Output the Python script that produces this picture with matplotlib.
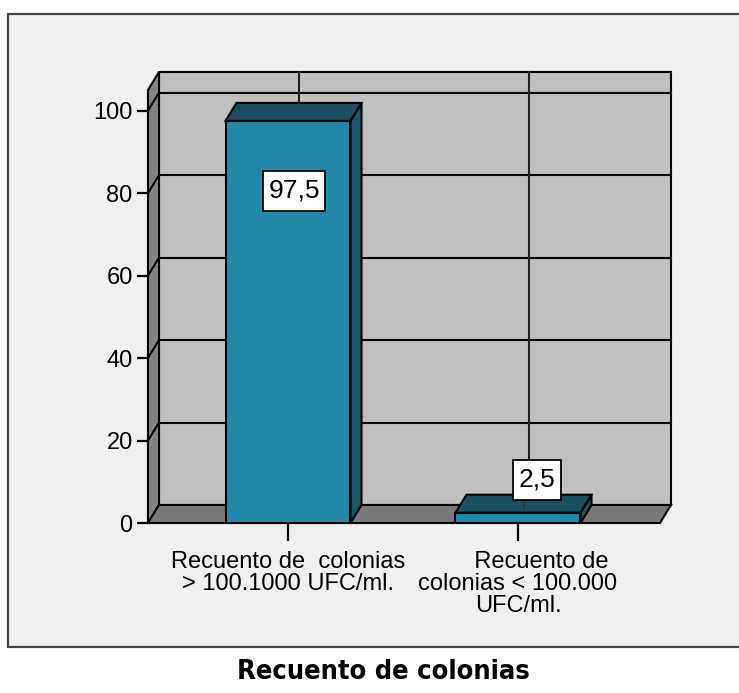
import numpy as np
import matplotlib.pyplot as plt
from matplotlib.patches import Polygon, Rectangle
from matplotlib.path import Path

# datos del grafico
categorias = ['Recuento de  colonias\n> 100.1000 UFC/ml.',
              '       Recuento de\ncolonias < 100.000\nUFC/ml.']
porcentajes = [97.5, 2.5]
etiquetas = ['97,5', '2,5']
marcas_y = [0, 20, 40, 60, 80, 100]
titulo = 'Recuento de colonias'

plt.rcParams['font.family'] = ['Liberation Sans']

W, H = 739, 693
fig = plt.figure(figsize=(W / 100, H / 100), dpi=100, facecolor='white')

# marco exterior gris claro
fig.patches.append(Rectangle((8 / W, (H - 647) / H), 740 / W, (647 - 14) / H,
                             transform=fig.transFigure, facecolor='#f0f0f0',
                             edgecolor='#454545', lw=1.6, zorder=-5))

# ejes frontales (pared izquierda y suelo delanteros)
ax = fig.add_axes([148 / W, (H - 523) / H, (660 - 148) / W, (523 - 90) / H])
x0, x1 = -0.6087, 1.6174
ytop = 105
ax.set_xlim(x0, x1)
ax.set_ylim(0, ytop)
ax.patch.set_visible(False)
for s in ax.spines.values():
    s.set_visible(False)

# profundidad 3D en pixeles
dx, dy = 11, 18


def desplazar(x, y, ox, oy):
    px, py = ax.transData.transform((x, y))
    return ax.transData.inverted().transform((px + ox, py + oy))


def fondo(x, y):
    return desplazar(x, y, dx, dy)


def poli(pts, fc, z):
    ax.add_patch(Polygon(pts, closed=True, facecolor=fc, edgecolor='black',
                         lw=1.5, zorder=z, clip_on=False, joinstyle='miter'))


# caja de etiqueta mas alta que ancha
def caja(x, y, w, h, m):
    px, py = 0.2 * m, 0.3 * m
    return Path([(x - px, y - py), (x + w + px, y - py), (x + w + px, y + h + py),
                 (x - px, y + h + py), (x - px, y - py)], closed=True)


# pared trasera con rejilla
poli([fondo(x0, 0), fondo(x1, 0), fondo(x1, ytop), fondo(x0, ytop)], '#c0c0c0', 1)
for y in marcas_y[1:]:
    a, b = fondo(x0, y), fondo(x1, y)
    ax.plot([a[0], b[0]], [a[1], b[1]], color='black', lw=1.5, zorder=2, clip_on=False)
for i in range(len(categorias)):
    a, b = fondo(i, 0), fondo(i, ytop)
    ax.plot([a[0], b[0]], [a[1], b[1]], color='#222222', lw=1.5, zorder=2, clip_on=False)

# pared izquierda
poli([(x0, 0), (x0, ytop), fondo(x0, ytop), fondo(x0, 0)], '#848484', 3)
for y in marcas_y[1:]:
    b = fondo(x0, y)
    ax.plot([x0, b[0]], [y, b[1]], color='black', lw=1.5, zorder=4, clip_on=False)

# suelo
poli([(x0, 0), (x1, 0), fondo(x1, 0), fondo(x0, 0)], '#7a7a7a', 5)

# barras 3D
ancho = 125 / 230
for i, v in enumerate(porcentajes):
    xl, xr = i - ancho / 2, i + ancho / 2
    poli([(xr, 0), (xr, v), fondo(xr, v), fondo(xr, 0)], '#1a5668', 6)
    poli([(xl, v), (xr, v), fondo(xr, v), fondo(xl, v)], '#1b5064', 6)
    ax.add_patch(Rectangle((xl, 0), ancho, v, facecolor='#2289ab', edgecolor='black',
                           lw=1.5, zorder=7, clip_on=False))

# etiquetas de valor
desplaz = [(6, -70), (19, 33)]
for i, (v, t) in enumerate(zip(porcentajes, etiquetas)):
    ox, oy = desplaz[i]
    if oy > 0:
        a = desplazar(i, v, 6, 4)
        b = desplazar(i, v, 6, oy - 22)
        ax.plot([a[0], b[0]], [a[1], b[1]], color='#333333', lw=1.2, zorder=8, clip_on=False)
    ax.annotate(t, xy=(i, v), xytext=(ox * 0.72, oy * 0.72), textcoords='offset points',
                ha='center', va='center', fontsize=19, zorder=9,
                bbox=dict(boxstyle=caja, fc='white', ec='black', lw=1.3))

# ejes
ax.set_yticks(marcas_y)
ax.set_yticklabels([str(m) for m in marcas_y])
ax.set_xticks(range(len(categorias)))
ax.set_xticklabels(categorias, linespacing=0.98, va='top')
ax.tick_params(axis='y', direction='out', length=8, width=1.6, pad=3, labelsize=17,
               colors='black')
ax.tick_params(axis='x', direction='out', length=13, width=1.6, pad=7.5, labelsize=17,
               colors='black')
ax.spines['left'].set_visible(True)
ax.spines['left'].set_linewidth(1.5)
ax.spines['left'].set_zorder(8)

fig.text(383 / W, (H - 672) / H, titulo, ha='center', va='center',
         fontsize=19.5, fontweight='bold', family='DejaVu Sans', fontstretch='condensed')

fig.savefig('out.png', dpi=100, facecolor='white')
